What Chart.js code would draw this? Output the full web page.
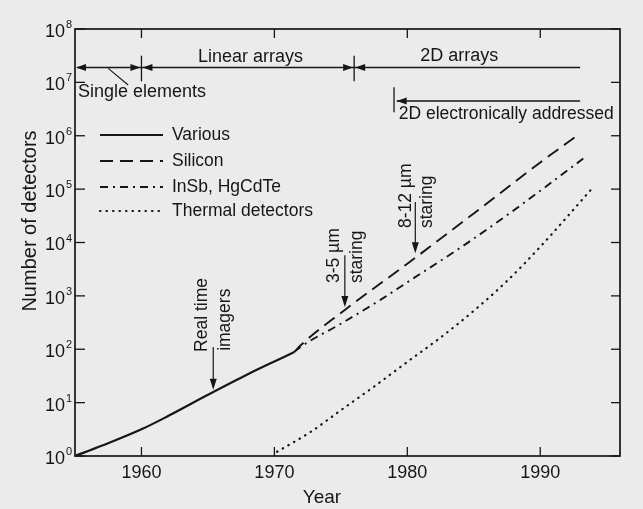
<!DOCTYPE html>
<html><head><meta charset="utf-8">
<script src="https://cdn.jsdelivr.net/npm/chart.js@4"></script>
<style>html,body{margin:0;padding:0;background:#ebebeb;overflow:hidden}#wrap{width:643px;height:509px;position:relative}</style>
</head><body><div id="wrap"><canvas id="c"></canvas></div>
<script>
// ---- data ----
const xTickYears = [1960, 1970, 1980, 1990];
const yTickExponents = [0, 1, 2, 3, 4, 5, 6, 7, 8];
const seriesNames = ['Various', 'Silicon', 'InSb, HgCdTe', 'Thermal detectors'];

const variousYears  = [1955, 1957, 1960, 1962, 1965, 1968, 1970, 1971.5];
const variousValues = [1, 1.55, 3.16, 5.6, 14, 34, 59, 89];

const siliconYears  = [1971.5, 1972, 1975, 1980, 1985, 1990, 1993];
const siliconValues = [89, 120, 480, 4000, 35000, 316000, 1100000];

const insbYears  = [1971.5, 1972, 1975, 1978, 1980, 1984, 1988, 1993.4];
const insbValues = [89, 112, 300, 850, 1800, 8000, 40000, 400000];

const thermalYears  = [1970.2, 1972.7, 1975, 1977.5, 1980, 1982.5, 1985, 1987.5, 1990, 1994];
const thermalValues = [1.2, 2.8, 7.2, 20, 58, 166, 525, 1900, 8300, 110000];

const pts = (xs, ys) => xs.map((x, i) => ({x: x, y: ys[i]}));

const INK = '#161616';
const FONT = '"Liberation Sans", Arial, sans-serif';
const styles = [
  {borderDash: [], borderWidth: 2.2, cap: 'butt'},
  {borderDash: [13, 7], borderWidth: 1.9, cap: 'butt'},
  {borderDash: [8, 5, 2, 5], borderWidth: 1.9, cap: 'butt'},
  {borderDash: [0.5, 6], borderWidth: 2.2, cap: 'round'}
];
const seriesData = [
  pts(variousYears, variousValues),
  pts(siliconYears, siliconValues),
  pts(insbYears, insbValues),
  pts(thermalYears, thermalValues)
];

function arrowHead(ctx, x, y, dir) { // dir: 'l','r','d'
  ctx.beginPath();
  if (dir === 'l') { ctx.moveTo(x, y); ctx.lineTo(x + 10, y - 3.5); ctx.lineTo(x + 10, y + 3.5); }
  if (dir === 'r') { ctx.moveTo(x, y); ctx.lineTo(x - 10, y - 3.5); ctx.lineTo(x - 10, y + 3.5); }
  if (dir === 'd') { ctx.moveTo(x, y); ctx.lineTo(x - 3.5, y - 11); ctx.lineTo(x + 3.5, y - 11); }
  ctx.closePath(); ctx.fill();
}
function line(ctx, x1, y1, x2, y2, w) {
  ctx.lineWidth = w || 1.3; ctx.setLineDash([]);
  ctx.beginPath(); ctx.moveTo(x1, y1); ctx.lineTo(x2, y2); ctx.stroke();
}
function vtext(ctx, txt, x, y) {
  ctx.save(); ctx.translate(x, y); ctx.rotate(-Math.PI / 2);
  ctx.textAlign = 'left'; ctx.textBaseline = 'middle'; ctx.fillText(txt, 0, 0); ctx.restore();
}

const decor = {
  id: 'decor',
  beforeDraw(chart) {
    const c = chart.ctx; c.save(); c.fillStyle = '#ebebeb'; c.fillRect(0, 0, chart.width, chart.height); c.restore();
  },
  afterDraw(chart) {
    const ctx = chart.ctx, a = chart.chartArea;
    const xs = chart.scales.x, ys = chart.scales.y;
    const X = v => xs.getPixelForValue(v);
    const Y = e => ys.getPixelForValue(Math.pow(10, e));
    ctx.save();
    ctx.strokeStyle = INK; ctx.fillStyle = INK;
    // frame
    ctx.lineWidth = 1.7; ctx.setLineDash([]);
    ctx.strokeRect(a.left, a.top, a.right - a.left, a.bottom - a.top);
    // inside ticks
    xTickYears.forEach(v => {
      line(ctx, X(v), a.bottom, X(v), a.bottom - 9);
      line(ctx, X(v), a.top, X(v), a.top + 9);
    });
    yTickExponents.forEach(e => {
      line(ctx, a.left, Y(e), a.left + 10, Y(e));
      line(ctx, a.right, Y(e), a.right - 9, Y(e));
    });
    // tick labels
    ctx.font = '18px ' + FONT; ctx.textBaseline = 'middle';
    ctx.textAlign = 'center';
    xTickYears.forEach(v => ctx.fillText(String(v), X(v), a.bottom + 17));
    yTickExponents.forEach(e => {
      ctx.font = '18px ' + FONT; ctx.textAlign = 'right';
      ctx.fillText('10', a.left - 10, Y(e) + 3);
      ctx.font = '11px ' + FONT; ctx.textAlign = 'left';
      ctx.fillText(String(e), a.left - 9, Y(e) - 4);
    });
    // axis titles
    ctx.font = '19px ' + FONT; ctx.textAlign = 'center';
    ctx.fillText('Year', 322, a.bottom + 42);
    ctx.save(); ctx.translate(30, 221); ctx.rotate(-Math.PI / 2);
    ctx.font = '20px ' + FONT; ctx.fillText('Number of detectors', 0, 0); ctx.restore();

    // legend
    ctx.font = '17.5px ' + FONT; ctx.textAlign = 'left'; ctx.textBaseline = 'middle';
    const legY = [135, 161, 187, 211];
    seriesNames.forEach((n, i) => {
      const st = styles[i];
      ctx.lineWidth = st.borderWidth; ctx.lineCap = st.cap; ctx.setLineDash(st.borderDash);
      ctx.beginPath(); ctx.moveTo(a.left + 25, legY[i]); ctx.lineTo(a.left + 88, legY[i]); ctx.stroke();
      ctx.setLineDash([]); ctx.lineCap = 'butt';
      ctx.fillText(n, a.left + 97, legY[i]);
    });

    // period arrows
    const ay = Y(7.28);
    line(ctx, X(1955) + 2, ay, X(1993), ay, 1.4);
    arrowHead(ctx, a.left + 1, ay, 'l');
    arrowHead(ctx, X(1960) - 1, ay, 'r');
    arrowHead(ctx, X(1960) + 1, ay, 'l');
    arrowHead(ctx, X(1976) - 1, ay, 'r');
    arrowHead(ctx, X(1976) + 1, ay, 'l');
    line(ctx, X(1960), Y(7.5), X(1960), Y(7.02), 1.3);
    line(ctx, X(1976), Y(7.5), X(1976), Y(7.02), 1.3);
    line(ctx, X(1957.5), ay + 1, X(1959), Y(6.95), 1.1);
    // 2D electronically addressed
    const ey = Y(6.65);
    line(ctx, X(1979.2), ey, X(1993), ey, 1.4);
    arrowHead(ctx, X(1979.2), ey, 'l');
    line(ctx, X(1979), Y(6.91), X(1979), Y(6.44), 1.3);

    ctx.font = '18px ' + FONT; ctx.textBaseline = 'middle';
    ctx.textAlign = 'left';
    ctx.fillText('Single elements', a.left + 3, Y(6.81));
    ctx.font = '17.5px ' + FONT;
    ctx.fillText('2D electronically addressed', X(1979.35), Y(6.4));
    ctx.font = '18px ' + FONT;
    ctx.textAlign = 'center';
    ctx.fillText('Linear arrays', X(1968.2), Y(7.47));
    ctx.fillText('2D arrays', X(1983.9), Y(7.49));

    // vertical notes with arrows
    ctx.font = '17.5px ' + FONT;
    vtext(ctx, 'Real time', X(1964.6), Y(1.95));
    vtext(ctx, 'imagers', X(1966.3), Y(1.97));
    line(ctx, X(1965.4), Y(2.04), X(1965.4), Y(1.3), 1.2);
    arrowHead(ctx, X(1965.4), Y(1.24), 'd');

    vtext(ctx, '3-5 µm', X(1974.5), Y(3.24));
    vtext(ctx, 'staring', X(1976.2), Y(3.24));
    line(ctx, X(1975.3), Y(3.76), X(1975.3), Y(2.85), 1.2);
    arrowHead(ctx, X(1975.3), Y(2.79), 'd');

    vtext(ctx, '8-12 µm', X(1979.9), Y(4.27));
    vtext(ctx, 'staring', X(1981.5), Y(4.27));
    line(ctx, X(1980.6), Y(4.76), X(1980.6), Y(3.86), 1.2);
    arrowHead(ctx, X(1980.6), Y(3.8), 'd');
    ctx.restore();
  }
};

new Chart(document.getElementById('c'), {
  type: 'line',
  data: {
    datasets: seriesNames.map((n, i) => ({
      label: n,
      data: seriesData[i],
      borderColor: INK,
      borderWidth: styles[i].borderWidth,
      borderDash: styles[i].borderDash,
      borderCapStyle: styles[i].cap,
      pointRadius: 0,
      fill: false,
      cubicInterpolationMode: 'monotone'
    }))
  },
  options: {
    responsive: true,
    maintainAspectRatio: false,
    animation: false,
    devicePixelRatio: 1,
    layout: {padding: {left: 75, top: 29, right: 23, bottom: 53}},
    plugins: {legend: {display: false}, tooltip: {enabled: false}, title: {display: false}},
    scales: {
      x: {type: 'linear', min: 1955, max: 1996, display: false},
      y: {type: 'logarithmic', min: 1, max: 1e8, display: false}
    }
  },
  plugins: [decor]
});
</script>
</body></html>
